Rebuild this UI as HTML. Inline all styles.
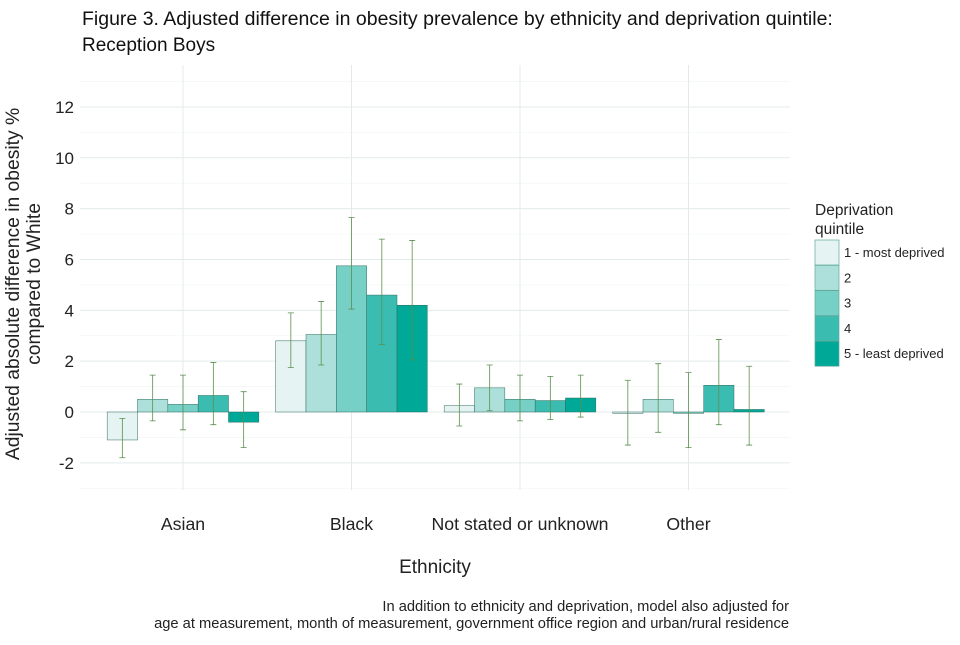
<!DOCTYPE html>
<html><head><meta charset="utf-8"><style>
body{margin:0;background:#fff;font-family:"Liberation Sans",sans-serif;}
svg text{font-family:"Liberation Sans",sans-serif;}
</style></head><body>
<svg id="c" width="960" height="640" xmlns="http://www.w3.org/2000/svg">
<text x="82" y="25" font-size="19.5" fill="#111">Figure 3. Adjusted difference in obesity prevalence by ethnicity and deprivation quintile:</text>
<text x="82" y="51" font-size="19" fill="#111">Reception Boys</text>
<g id="grid"></g><g id="bars"></g><g id="err"></g><g id="axes"></g><g id="legend"></g>
<text x="435" y="573" font-size="19" text-anchor="middle" fill="#222">Ethnicity</text>
<text transform="translate(23,284) rotate(-90)" font-size="19.3" text-anchor="middle" fill="#222"><tspan x="0" dy="-4">Adjusted absolute difference in obesity %</tspan><tspan x="0" dy="21">compared to White</tspan></text>
<text x="789" y="611" font-size="14.7" text-anchor="end" fill="#222">In addition to ethnicity and deprivation, model also adjusted for</text>
<text x="789" y="628" font-size="14.7" text-anchor="end" fill="#222">age at measurement, month of measurement, government office region and urban/rural residence</text>
</svg>
<script>
const categories=["Asian","Black","Not stated or unknown","Other"];
const quintiles=["1 - most deprived","2","3","4","5 - least deprived"];
const values=[[-1.1,0.5,0.3,0.65,-0.4],[2.8,3.05,5.75,4.6,4.2],[0.25,0.95,0.5,0.45,0.55],[-0.05,0.5,-0.05,1.05,0.1]];
const lower=[[-1.8,-0.35,-0.7,-0.5,-1.4],[1.75,1.85,4.05,2.65,2.05],[-0.55,0.05,-0.35,-0.3,-0.2],[-1.3,-0.8,-1.4,-0.5,-1.3]];
const upper=[[-0.25,1.45,1.45,1.95,0.8],[3.9,4.35,7.65,6.8,6.75],[1.1,1.85,1.45,1.4,1.45],[1.25,1.9,1.55,2.85,1.8]];
const yTicks=[-2,0,2,4,6,8,10,12];
const colors=["#e5f3f2","#ade0da","#76d0c5","#3bbcb1","#00a997"];
const NS="http://www.w3.org/2000/svg";
const L=80,R=790,T=65,B=490;
const y=v=>412-v*25.42;
const step=168.5;
const xc=i=>183+step*i;
const bw=step*0.9/5;
function mk(p,t,a){const e=document.createElementNS(NS,t);for(const k in a)e.setAttribute(k,a[k]);document.getElementById(p).appendChild(e);return e;}
for(let v=-3;v<=13;v++){const e=mk("grid","line",{x1:L,x2:R,y1:y(v),y2:y(v),stroke:v%2==0?"#e3ebea":"#f0f4f4","stroke-width":v%2==0?1:0.6});

}
categories.forEach((c,i)=>{const e=mk("grid","line",{x1:xc(i),x2:xc(i),y1:T,y2:B,stroke:"#e3ebea"});


const t=mk("axes","text",{x:xc(i),y:530,"font-size":17.7,"text-anchor":"middle",fill:"#222"});t.textContent=c;

});
yTicks.forEach(v=>{const t=mk("axes","text",{x:74,y:y(v)+6,"font-size":17,"text-anchor":"end",fill:"#222"});t.textContent=v;

});
values.forEach((row,i)=>row.forEach((v,j)=>{
const x0=xc(i)-step*0.45+j*bw;
const r=mk("bars","rect",{x:x0,y:Math.min(y(v),y(0)),width:bw,height:Math.max(Math.abs(y(v)-y(0)),0.5),fill:colors[j],stroke:"#2e6b5e","stroke-width":0.5});


const cx=x0+bw/2,lo=y(lower[i][j]),hi=y(upper[i][j]);
const g=mk("err","path",{d:`M${cx-3} ${hi}H${cx+3}M${cx} ${hi}V${lo}M${cx-3} ${lo}H${cx+3}`,stroke:"#5b8f4e","stroke-width":0.8,fill:"none"});


}));
let t=mk("legend","text",{x:815,y:215,"font-size":15.5,fill:"#222"});t.textContent="Deprivation";


t=mk("legend","text",{x:815,y:234,"font-size":15.5,fill:"#222"});t.textContent="quintile";


quintiles.forEach((q,j)=>{const yy=240+j*25.3;
const r=mk("legend","rect",{x:815,y:yy,width:24,height:25,fill:colors[j],stroke:"#5fa99a","stroke-width":0.7});


const tx=mk("legend","text",{x:844,y:yy+17,"font-size":13,fill:"#222"});tx.textContent=q;

});
</script>
</body></html>
